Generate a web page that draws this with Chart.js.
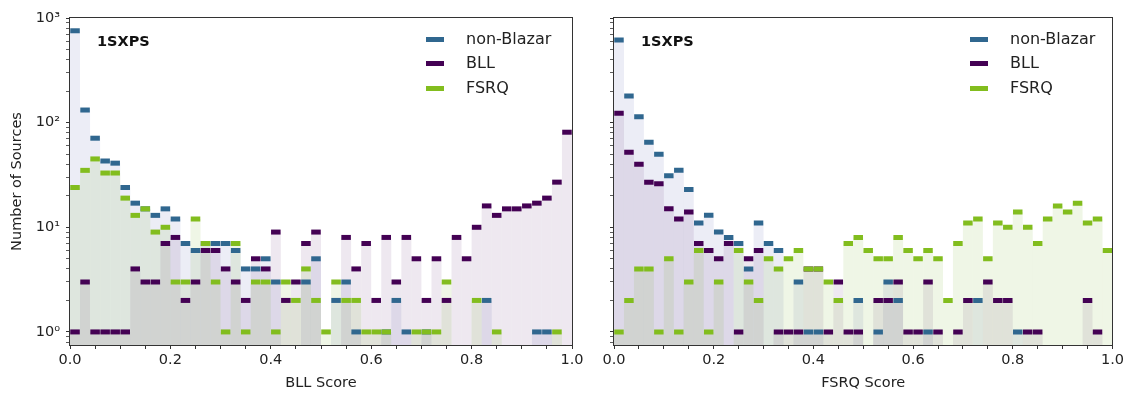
<!DOCTYPE html>
<html><head><meta charset="utf-8">
<script src="https://cdn.jsdelivr.net/npm/chart.js@4.4.1/dist/chart.umd.min.js"></script>
<style>
html,body{margin:0;padding:0;background:#fff;}
#wrap{position:relative;width:1127px;height:394px;font-family:'DejaVu Sans',sans-serif;overflow:hidden;}
canvas{position:absolute;top:0;}
#c1{left:0;} #c2{left:590px;}
.tag{position:absolute;font-weight:bold;font-size:14.5px;color:#111;line-height:15px;}
.leg{position:absolute;font-size:16px;color:#222;}
.leg div{position:relative;height:24.5px;line-height:24.5px;padding-left:40px;white-space:nowrap;}
.leg span{position:absolute;left:0;top:10px;width:18px;height:5px;}
</style></head>
<body>
<div id="wrap">
<canvas id="c1" width="590" height="394"></canvas>
<canvas id="c2" width="537" height="394"></canvas>
<div class="tag" style="left:97px;top:34px;">1SXPS</div>
<div class="tag" style="left:641px;top:34px;">1SXPS</div>
<div class="leg" style="left:426px;top:26.5px;">
 <div><span style="background:#30678f"></span>non-Blazar</div>
 <div><span style="background:#440154"></span>BLL</div>
 <div><span style="background:#82bd1e"></span>FSRQ</div>
</div>
<div class="leg" style="left:970px;top:26.5px;">
 <div><span style="background:#30678f"></span>non-Blazar</div>
 <div><span style="background:#440154"></span>BLL</div>
 <div><span style="background:#82bd1e"></span>FSRQ</div>
</div>
</div>
<script>
// Bin centres (categories), 50 bins of width 0.02
const BINS = ['0.01','0.03','0.05','0.07','0.09','0.11','0.13','0.15','0.17','0.19',
 '0.21','0.23','0.25','0.27','0.29','0.31','0.33','0.35','0.37','0.39',
 '0.41','0.43','0.45','0.47','0.49','0.51','0.53','0.55','0.57','0.59',
 '0.61','0.63','0.65','0.67','0.69','0.71','0.73','0.75','0.77','0.79',
 '0.81','0.83','0.85','0.87','0.89','0.91','0.93','0.95','0.97','0.99'];

// Left panel: BLL score histograms
const NB_BLL   = [755,132,71,43,41,24,17,15,13,15, 12,7,6,7,7,7,6,4,4,5, 3,0,0,3,5,0,2,3,1,0, 0,1,2,1,0,1,0,0,0,0, 0,2,0,0,0,0,1,1,0,0];
const BLL_BLL  = [1,3,1,1,1,1,4,3,3,7, 8,2,3,6,6,4,3,2,5,4, 9,2,3,7,9,0,0,8,4,7, 2,8,3,8,5,2,5,2,8,5, 10,16,13,15,15,16,17,19,27,81];
const FSRQ_BLL = [24,35,45,33,33,19,13,15,9,10, 3,3,12,7,3,1,7,1,3,3, 1,3,2,4,2,1,3,2,2,1, 1,1,0,0,1,1,1,3,0,0, 2,0,1,0,0,0,0,0,1,0];

// Right panel: FSRQ score histograms
const NB_FSRQ   = [615,180,114,65,50,31,35,23,11,13, 9,8,7,4,11,7,6,0,3,1, 1,0,0,0,2,0,1,3,2,0, 0,1,0,0,0,0,2,0,0,0, 1,0,0,0,0,0,0,0,0,0];
const BLL_FSRQ  = [123,52,40,27,26,15,12,14,7,6, 5,7,1,5,6,0,1,1,1,4, 4,1,3,1,1,0,2,2,3,1, 1,3,1,0,1,2,0,3,2,2, 0,1,1,0,0,0,0,2,1,0];
const FSRQ_FSRQ = [1,2,4,4,1,5,1,3,6,1, 3,0,6,3,2,5,4,5,6,4, 4,3,2,7,8,6,5,5,8,6, 5,6,5,2,7,11,12,5,11,10, 14,10,7,12,16,14,17,11,12,6];

// Tick positions and labels
const X_TICKS = [0,0.05,0.1,0.15,0.2,0.25,0.3,0.35,0.4,0.45,0.5,0.55,0.6,0.65,0.7,0.75,0.8,0.85,0.9,0.95,1];
const X_LABELS = {0:'0.0',0.2:'0.2',0.4:'0.4',0.6:'0.6',0.8:'0.8',1:'1.0'};
const Y_TICKS = [0.8,0.9,1,2,3,4,5,6,7,8,9,10,20,30,40,50,60,70,80,90,100,200,300,400,500,600,700,800,900,1000];
const Y_LABELS = {1:'10\u2070',10:'10\u00b9',100:'10\u00b2',1000:'10\u00b3'};

const COL = {nb:'#30678f', bll:'#440154', fsrq:'#82bd1e'};
const FILL = {nb:'rgba(40,60,150,0.09)', bll:'rgba(68,1,84,0.09)', fsrq:'rgba(110,170,30,0.11)'};
const CAP = 1.0565; // half-thickness of the cap line in log space

const FONT = "'DejaVu Sans', sans-serif";
Chart.defaults.font.family = FONT;
Chart.defaults.color = '#222';

const frame = {
  id:'frame',
  afterDraw(chart){
    const {ctx, chartArea:a} = chart;
    ctx.save();
    ctx.strokeStyle = '#333';
    ctx.lineWidth = 1;
    ctx.strokeRect(Math.round(a.left)-0.5, Math.round(a.top)-0.5, Math.round(a.right-a.left)+1, Math.round(a.bottom-a.top)+1);
    ctx.restore();
  }
};

function fillDs(vals, key, order){
  return {type:'bar', xAxisID:'xc', yAxisID:'y', grouped:false, order, inflateAmount:0,
    data: vals.map(v => v>0 ? v : null),
    backgroundColor: FILL[key], borderWidth:0, barPercentage:1, categoryPercentage:1};
}
function capDs(vals, key, order){
  return {type:'bar', xAxisID:'xc', yAxisID:'y', grouped:false, order, inflateAmount:0,
    data: vals.map(v => v>0 ? [v/CAP, v*CAP] : null),
    backgroundColor: COL[key], borderWidth:0, borderSkipped:false, barPercentage:0.95, categoryPercentage:1};
}

function makeChart(id, nb, bll, fsrq, xTitle, left){
  const ctx = document.getElementById(id);
  return new Chart(ctx, {
    type:'bar',
    data:{labels:BINS, datasets:[
      capDs(fsrq,'fsrq',0), capDs(bll,'bll',1), capDs(nb,'nb',2),
      fillDs(fsrq,'fsrq',3), fillDs(bll,'bll',4), fillDs(nb,'nb',5)
    ]},
    options:{
      responsive:false, animation:false, devicePixelRatio:1,
      layout:{padding:{left:0, right: left ? 18 : 11, top:18, bottom:0}},
      plugins:{legend:{display:false}, tooltip:{enabled:false}},
      scales:{
        x:{type:'linear', position:'bottom', min:0, max:1, offset:false,
          afterBuildTicks: s => { s.ticks = X_TICKS.map(v => ({value:v})); },
          ticks:{autoSkip:false, maxRotation:0, font:{size:14.5}, color:'#222', padding:3,
            callback: v => { const k = Math.round(v*100)/100; return X_LABELS[k] !== undefined ? X_LABELS[k] : ''; }},
          grid:{offset:false, drawOnChartArea:false, drawTicks:true, tickLength:4, tickColor:'#333', tickWidth:1},
          border:{display:false},
          title:{display:true, text:xTitle, font:{size:14.5}, color:'#222', padding:{top:0,bottom:2}},
          afterFit: s => { s.height = 49; }
        },
        xc:{type:'category', labels:BINS, offset:true, display:false, grid:{offset:true}},
        y:{type:'logarithmic', position:'left', min:0.75, max:1000,
          afterBuildTicks: s => { s.ticks = Y_TICKS.map(v => ({value:v, major: Y_LABELS[v]!==undefined})); },
          ticks:{autoSkip:false, font:{size:14.5}, color:'#222', padding:6,
            callback: v => left && Y_LABELS[v] ? Y_LABELS[v] : ''},
          grid:{drawOnChartArea:false, drawTicks:true, tickLength:4,
            tickColor:'#333', tickWidth: c => (c.tick && c.tick.major) ? 1 : 0.8},
          border:{display:false},
          title:{display:left, text:'Number of Sources', font:{size:14.5}, color:'#222', padding:{top:9,bottom:0}},
          afterFit: s => { s.width = left ? 70 : 24; }
        }
      }
    },
    plugins:[frame]
  });
}

makeChart('c1', NB_BLL, BLL_BLL, FSRQ_BLL, 'BLL Score', true);
makeChart('c2', NB_FSRQ, BLL_FSRQ, FSRQ_FSRQ, 'FSRQ Score', false);
</script>
</body></html>
